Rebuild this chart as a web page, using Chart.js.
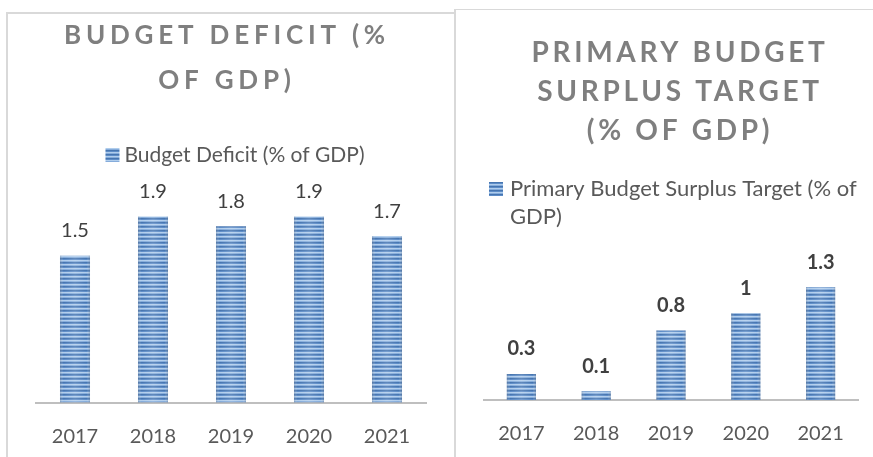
<!DOCTYPE html>
<html><head><meta charset="utf-8">
<script src="https://cdn.jsdelivr.net/npm/chart.js@4/dist/chart.umd.min.js"></script>
<style>
html,body{margin:0;padding:0;background:#fff;}
#wrap{position:relative;width:873px;height:457px;overflow:hidden;background:#fff;}
.panel{position:absolute;border-left:2px solid #d9d9d9;}
#p1{left:6px;top:12px;width:448px;height:470px;border-top:2px solid #d9d9d9;}
#p2{left:454px;top:9px;width:440px;height:470px;border-top:1px solid #d9d9d9;}
canvas{position:absolute;left:0;top:0;}
</style></head><body>
<div id="wrap">
  <div class="panel" id="p1"><canvas id="c1" width="446" height="463"></canvas></div>
  <div class="panel" id="p2"><canvas id="c2" width="417" height="467"></canvas></div>
</div>
<script>
const years = ['2017', '2018', '2019', '2020', '2021'];
const deficitValues = [1.5, 1.9, 1.8, 1.9, 1.7];
const surplusValues = [0.3, 0.1, 0.8, 1, 1.3];
const deficitTitle = ['BUDGET DEFICIT (%', 'OF GDP)'];
const surplusTitle = ['PRIMARY BUDGET', 'SURPLUS TARGET', '(% OF GDP)'];
const deficitLabel = 'Budget Deficit (% of GDP)';
const surplusLabel = 'Primary Budget Surplus Target (% of GDP)';
const deficitLegendLines = ['Budget Deficit (% of GDP)'];
const surplusLegendLines = ['Primary Budget Surplus Target (% of', 'GDP)'];

const FONT = 'Lato, "Open Sans", sans-serif';

function stripePattern(ctx) {
  const c = document.createElement('canvas');
  c.width = 4; c.height = 4;
  const g = c.getContext('2d');
  const rows = ['#4675b0', '#5d8cc7', '#b0cdec', '#85acdb'];
  rows.forEach((col, i) => { g.fillStyle = col; g.fillRect(0, i, 4, 1); });
  return ctx.createPattern(c, 'repeat');
}

const barDecor = {
  id: 'barDecor',
  beforeDraw(chart, args, opts) {
    const tb = chart.titleBlock;
    if (tb && !tb._spaced) {
      const orig = tb.draw;
      tb.draw = function (...a) {
        const c = this.ctx;
        c.save();
        c.letterSpacing = opts.titleSpacing + 'px';
        c.translate(opts.titleShift, 0);
        orig.apply(this, a);
        c.restore();
      };
      tb._spaced = true;
    }
  },
  afterDatasetsDraw(chart, args, opts) {
    const ctx = chart.ctx;
    chart.data.datasets.forEach((ds, i) => {
      const meta = chart.getDatasetMeta(i);
      meta.data.forEach((bar, j) => {
        const left = bar.x - bar.width / 2, right = bar.x + bar.width / 2;
        const top = bar.y, bottom = bar.base;
        ctx.save();
        const gr = ctx.createLinearGradient(left, 0, right, 0);
        gr.addColorStop(0, 'rgba(110,120,135,0.35)');
        gr.addColorStop(0.12, 'rgba(255,255,255,0.0)');
        gr.addColorStop(0.5, 'rgba(255,255,255,0.15)');
        gr.addColorStop(0.88, 'rgba(255,255,255,0.0)');
        gr.addColorStop(1, 'rgba(110,120,135,0.35)');
        ctx.fillStyle = gr;
        ctx.fillRect(left, top, right - left, bottom - top);
        ctx.restore();
        ctx.save();
        ctx.font = opts.labelFont;
        ctx.fillStyle = opts.labelColor;
        ctx.textAlign = 'center';
        ctx.textBaseline = 'middle';
        ctx.fillText(String(ds.data[j]), bar.x, bar.y - opts.labelOffset);
        ctx.restore();
      });
    });
  },
  afterDraw(chart, args, opts) {
    const L = opts.legend;
    const ctx = chart.ctx;
    const area = chart.chartArea;
    ctx.save();
    ctx.font = L.font;
    ctx.textBaseline = 'middle';
    ctx.textAlign = 'left';
    const tw = Math.max(...L.lines.map(s => ctx.measureText(s).width));
    const total = L.box + L.gap + tw;
    let x0;
    if (L.align === 'center') x0 = (area.left + area.right) / 2 - total / 2 + L.shift;
    else x0 = area.left + L.shift;
    const y0 = L.y;
    ctx.fillStyle = chart.data.datasets[0].backgroundColor;
    ctx.fillRect(x0, y0 - L.box / 2, L.box, L.box);
    ctx.fillStyle = L.color;
    L.lines.forEach((s, k) => ctx.fillText(s, x0 + L.box + L.gap, y0 + k * L.lineH));
    ctx.restore();
  }
};

function makeChart(id, values, label, title, cfg) {
  const canvas = document.getElementById(id);
  const ctx = canvas.getContext('2d');
  return new Chart(ctx, {
    type: 'bar',
    data: {
      labels: years,
      datasets: [{
        label: label,
        data: values,
        backgroundColor: stripePattern(ctx),
        borderWidth: 0,
        categoryPercentage: 1,
        barPercentage: cfg.barPct
      }]
    },
    options: {
      responsive: false,
      animation: false,
      devicePixelRatio: 1,
      layout: { padding: cfg.padding },
      plugins: {
        barDecor: {
          titleSpacing: cfg.titleSpacing,
          titleShift: cfg.titleShift,
          labelFont: cfg.labelFont,
          labelColor: '#404040',
          labelOffset: cfg.labelOffset,
          legend: cfg.legend
        },
        tooltip: { enabled: false },
        legend: { display: false },
        title: {
          display: true,
          text: title,
          color: '#7f7f7f',
          font: { family: FONT, size: cfg.titleSize, weight: 'bold', lineHeight: cfg.titleLH },
          padding: cfg.titlePad
        }
      },
      scales: {
        x: {
          grid: { display: false, drawTicks: false },
          border: { display: true, color: '#bfbfbf', width: 2 },
          ticks: { color: '#595959', font: { family: FONT, size: 20 }, padding: 22 }
        },
        y: {
          display: false,
          min: 0,
          max: cfg.yMax
        }
      }
    },
    plugins: [barDecor]
  });
}

makeChart('c1', deficitValues, deficitLabel, deficitTitle, {
  barPct: 0.385,
  padding: { left: 28, right: 28, top: 0, bottom: 6.5 },
  titleSpacing: 4.8,
  titleShift: -4,
  titleSize: 26,
  titleLH: 1.7,
  titlePad: { top: 0, bottom: 75 },
  labelFont: '20px ' + FONT,
  labelOffset: 25,
  yMax: 2.3,
  legend: { lines: deficitLegendLines, font: '21px ' + FONT, color: '#595959', box: 14, gap: 5, align: 'center', shift: 4, y: 141, lineH: 28 }
});

makeChart('c2', surplusValues, surplusLabel, surplusTitle, {
  barPct: 0.39,
  padding: { left: 28, right: 15, top: 0, bottom: 9 },
  titleSpacing: 3.7,
  titleShift: 9,
  titleSize: 28,
  titleLH: 1.39,
  titlePad: { top: 24, bottom: 119 },
  labelFont: 'bold 20px ' + FONT,
  labelOffset: 25,
  yMax: 1.5,
  legend: { lines: surplusLegendLines, font: '22px ' + FONT, color: '#595959', box: 14, gap: 7, align: 'start', shift: 5, y: 179, lineH: 28 }
});
</script>
</body></html>
